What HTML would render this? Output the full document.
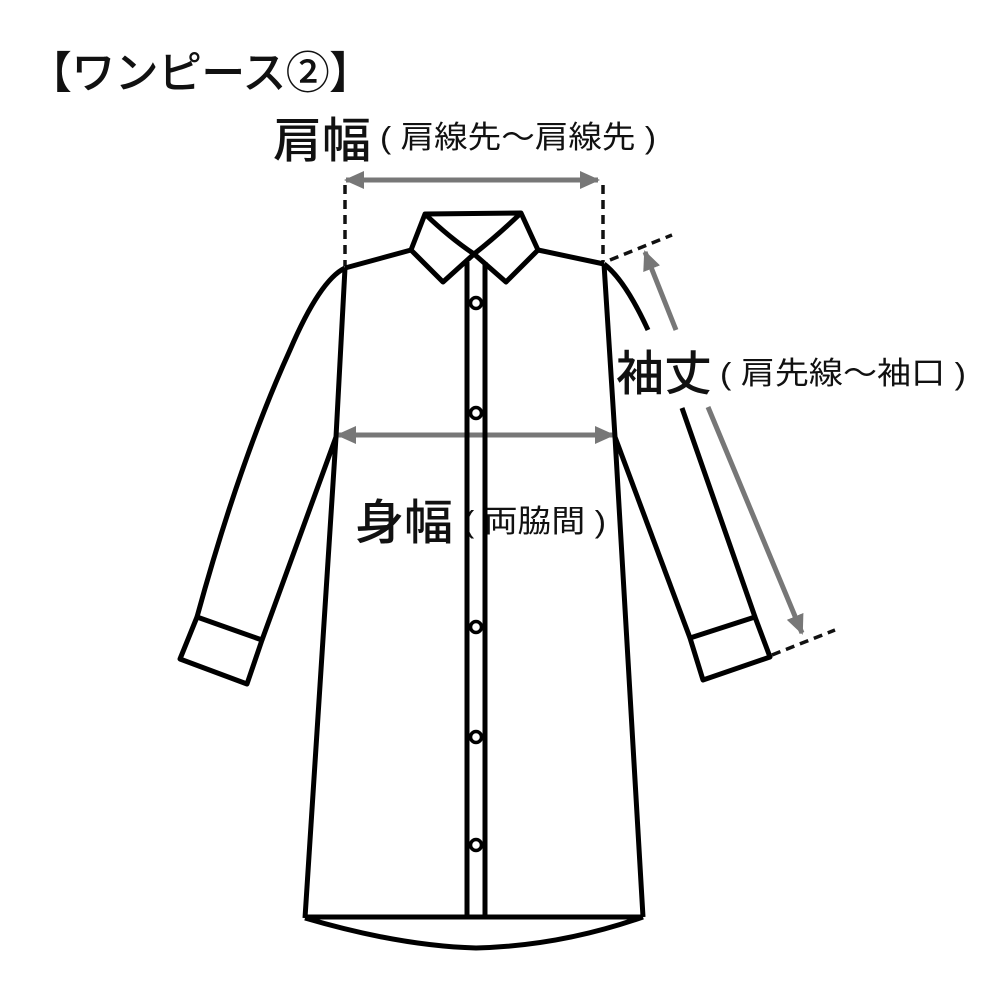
<!DOCTYPE html>
<html><head><meta charset="utf-8"><style>
html,body{margin:0;padding:0;background:#fff;}
svg{display:block;}
text{font-family:"Liberation Sans","Noto Sans CJK JP",sans-serif;fill:#111;}
</style></head><body>
<svg width="1000" height="1000" viewBox="0 0 1000 1000" xmlns="http://www.w3.org/2000/svg">
<defs>
<marker id="ah" markerWidth="20" markerHeight="18" refX="18" refY="9" orient="auto-start-reverse" markerUnits="userSpaceOnUse">
<path d="M0,0 L20,9 L0,18 Z" fill="#777"/>
</marker>
</defs>
<text x="28" y="88" font-size="44" font-weight="500" textLength="345">【ワンピース②】</text>
<text x="273" y="157" font-size="48" font-weight="500" textLength="98" lengthAdjust="spacingAndGlyphs">肩幅</text>
<text x="380" y="148" font-size="31" textLength="276" lengthAdjust="spacingAndGlyphs">( 肩線先～肩線先 )</text>
<text x="616" y="390" font-size="48" font-weight="500" textLength="96" lengthAdjust="spacingAndGlyphs">袖丈</text>
<text x="720" y="384" font-size="31" textLength="246" lengthAdjust="spacingAndGlyphs">( 肩先線～袖口 )</text>
<text x="355" y="539" font-size="48" font-weight="500" textLength="98" lengthAdjust="spacingAndGlyphs">身幅</text>
<text x="463" y="532" font-size="31" textLength="143" lengthAdjust="spacingAndGlyphs">( 両脇間 )</text>

<g stroke="#111" stroke-width="3.5" stroke-dasharray="9,6" fill="none">
<line x1="345" y1="185" x2="345" y2="266"/>
<line x1="603" y1="185" x2="603" y2="262"/>
<line x1="610" y1="260" x2="672" y2="235"/>
<line x1="772" y1="655" x2="835" y2="630"/>
</g>

<g stroke="#777" stroke-width="5" fill="none">
<line x1="346" y1="180" x2="598" y2="180" marker-start="url(#ah)" marker-end="url(#ah)"/>
<line x1="338" y1="435" x2="613" y2="435" marker-start="url(#ah)" marker-end="url(#ah)"/>
<line x1="676" y1="330" x2="645" y2="252" marker-end="url(#ah)"/>
<line x1="708" y1="407" x2="802" y2="633" marker-end="url(#ah)"/>
</g>

<g stroke="#000" stroke-width="5" fill="none" stroke-linejoin="round">
<path d="M425,214 L521,213 L538,250 L506,282 L474,254 L443,282 L411,250 Z"/>
<path d="M425,214 Q450,238 474,254 Q497,236 521,213"/>
<path d="M411,250 L345,268"/>
<path d="M538,250 L604,264"/>
<path d="M345,268 L336,437 L305,918"/>
<path d="M604,264 L615,437 L643,917"/>
<path d="M305,917 L643,917"/>
<path d="M305,918 Q400,946 476,948 Q560,946 643,917"/>
<path d="M467,262 L467,915 M485,262 L485,915"/>
<path d="M345,268 Q320,280 290,350 Q240,460 197,617"/>
<path d="M336,437 L262,640"/>
<path d="M197,617 L262,640 L247,684 L180,659 Z"/>
<path d="M604,264 Q625,280 648,330"/>
<path d="M682,408 L755,617"/>
<path d="M615,437 L690,638"/>
<path d="M755,617 L770,657 L703,680 L690,638 Z"/>
</g>
<g stroke="#000" stroke-width="3.5" fill="#fff">
<circle cx="476" cy="303" r="5.5"/>
<circle cx="476" cy="413" r="5.5"/>
<circle cx="476" cy="627" r="5.5"/>
<circle cx="476" cy="737" r="5.5"/>
<circle cx="476" cy="845" r="5.5"/>
</g>
</svg>
</body></html>
